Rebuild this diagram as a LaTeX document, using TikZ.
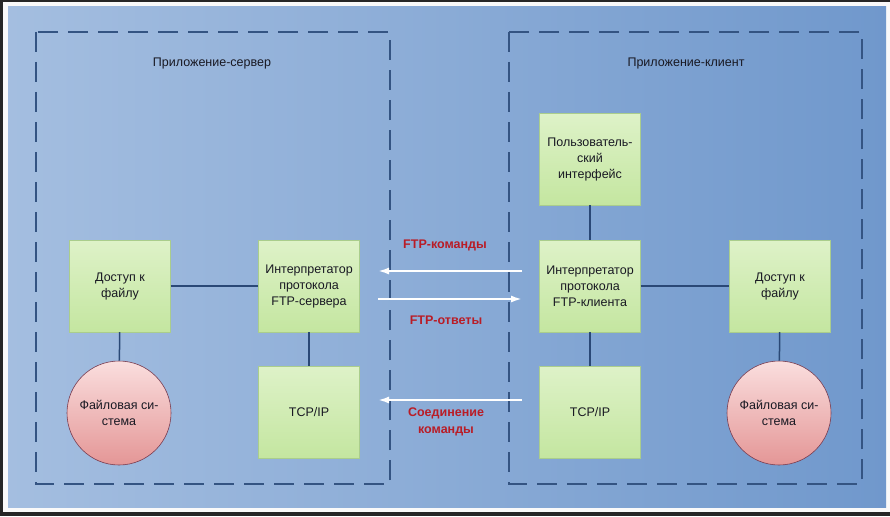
\documentclass[tikz,border=0pt]{standalone}
\usepackage{fontspec}
\setmainfont{Liberation Sans}
\usetikzlibrary{arrows.meta}
\definecolor{dashc}{RGB}{52,84,130}
\definecolor{connc}{RGB}{42,72,118}
\definecolor{redl}{RGB}{185,28,38}
\definecolor{gtop}{RGB}{222,242,200}
\definecolor{gbot}{RGB}{196,230,160}
\definecolor{gdraw}{RGB}{170,205,140}
\definecolor{ptop}{RGB}{250,222,222}
\definecolor{pbot}{RGB}{228,150,150}
\definecolor{pdraw}{RGB}{120,60,80}
\definecolor{txt}{RGB}{25,25,35}
\begin{document}
\begin{tikzpicture}[x=1pt,y=-1pt,
  every node/.style={font=\fontsize{12.5}{16}\selectfont, text=txt},
  gbox/.style={draw=gdraw, line width=0.4pt, top color=gtop, bottom color=gbot, minimum width=101pt, minimum height=92pt, inner sep=2pt, align=center},
  fcircle/.style={circle, draw=pdraw, line width=0.6pt, top color=ptop, bottom color=pbot, minimum size=104pt, inner sep=0pt, align=center},
  conn/.style={draw=connc, line width=1.5pt},
  dbox/.style={draw=dashc, line width=2pt, dash pattern=on 20pt off 10pt},
  warrow/.style={draw=white, line width=2pt, -{Latex[length=11pt,width=7pt]}},
  rlabel/.style={font=\bfseries\fontsize{12.5}{17}\selectfont, text=redl, align=center}
]
\useasboundingbox (0,0) rectangle (890,516);
\fill[black!85] (0,0) rectangle (890,516);
\fill[white!95!gray] (2.5,2.5) rectangle (890,512);
\shade[left color={rgb,255:red,164;green,190;blue,224}, right color={rgb,255:red,112;green,152;blue,204}] (8,7) rectangle (886,507);

\draw[dbox] (36,32) rectangle (390,484);
\draw[dbox] (509,32) rectangle (862,484);

\node (ts) at (212,63) {Приложение-сервер};
\node (tc) at (686,63) {Приложение-клиент};

\node[gbox] (sfa) at (120,286) {Доступ к\\файлу};
\node[gbox] (spi) at (309,286) {Интерпретатор\\протокола\\FTP-сервера};
\node[gbox] (stcp) at (309,412) {TCP/IP};
\node[fcircle] (sfs) at (119,413) {Файловая си-\\стема};

\node[gbox] (cui) at (590,159) {Пользователь-\\ский\\интерфейс};
\node[gbox] (cpi) at (590,286) {Интерпретатор\\протокола\\FTP-клиента};
\node[gbox] (ctcp) at (590,412) {TCP/IP};
\node[gbox] (cfa) at (780,286) {Доступ к\\файлу};
\node[fcircle] (cfs) at (779,413) {Файловая си-\\стема};

\draw[conn] (sfa) -- (spi);
\draw[conn] (sfa) -- (sfs);
\draw[conn] (spi) -- (stcp);
\draw[conn] (cui) -- (cpi);
\draw[conn] (cpi) -- (ctcp);
\draw[conn] (cpi) -- (cfa);
\draw[conn] (cfa) -- (cfs);

\coordinate (a1s) at (522,271); \coordinate (a1e) at (378,271);
\coordinate (a2s) at (378,299); \coordinate (a2e) at (522,299);
\coordinate (a3s) at (522,400); \coordinate (a3e) at (378,400);
\draw[warrow] (a1s) -- (a1e);
\draw[warrow] (a2s) -- (a2e);
\draw[warrow] (a3s) -- (a3e);

\node[rlabel] (l1) at (445,245) {FTP-команды};
\node[rlabel] (l2) at (446,320) {FTP-ответы};
\node[rlabel] (l3) at (446,422) {Соединение\\команды};
\end{tikzpicture}
\end{document}
